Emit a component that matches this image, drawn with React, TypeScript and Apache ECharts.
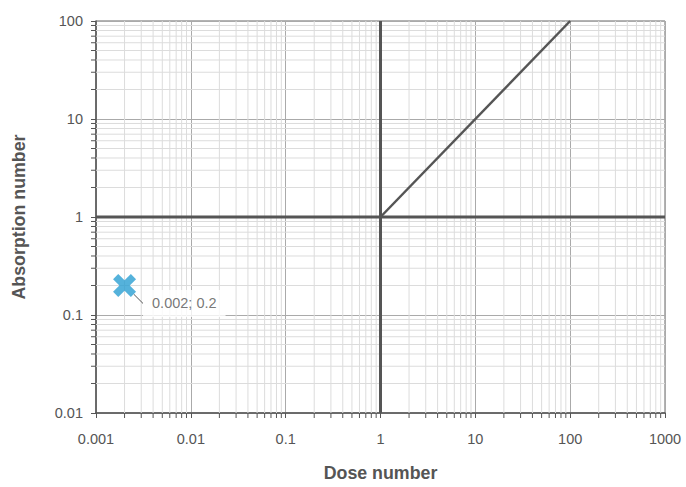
import React, { useEffect, useRef } from "react";
import * as echarts from "echarts";

const xDecades = [0.001, 0.01, 0.1, 1, 10, 100, 1000];
const yDecades = [0.01, 0.1, 1, 10, 100];
const minorSteps = [2, 3, 4, 5, 6, 7, 8, 9];

const hLine = [[0.001, 1], [1000, 1]];
const vLine = [[1, 0.01], [1, 100]];
const diagLine = [[1, 1], [100, 100]];
const point = [[0.002, 0.2]];
const pointLabel = "0.002; 0.2";

const xMinor: number[] = [];
xDecades.slice(0, -1).forEach((d) => minorSteps.forEach((m) => xMinor.push(+(d * m).toPrecision(6))));
const yMinor: number[] = [];
yDecades.slice(0, -1).forEach((d) => minorSteps.forEach((m) => yMinor.push(+(d * m).toPrecision(6))));

const FONT = 'Helvetica, Arial, "Liberation Sans", sans-serif';
const TXT = "#555";

export default function App() {
  const ref = useRef<HTMLDivElement>(null);
  useEffect(() => {
    const chart = echarts.init(ref.current!, undefined, { renderer: "svg" });
    const xMin = xDecades[0], xMax = xDecades[xDecades.length - 1];
    const yMin = yDecades[0], yMax = yDecades[yDecades.length - 1];
    chart.setOption({
      animation: false,
      textStyle: { fontFamily: FONT },
      grid: { left: 96, right: 21, top: 21, bottom: 68, show: true, borderColor: "#666", borderWidth: 1 },
      xAxis: {
        type: "log",
        logBase: 10,
        min: xMin,
        max: xMax,
        name: "Dose number",
        nameLocation: "middle",
        nameGap: 51,
        nameTextStyle: { color: TXT, fontSize: 17.8, fontWeight: 600, fontFamily: FONT },
        axisLine: { lineStyle: { color: "#555", width: 1.5 } },
        axisTick: { show: true, length: 5, lineStyle: { color: "#555" } },
        axisLabel: { color: TXT, fontSize: 14.5, margin: 18, fontFamily: FONT, formatter: (v: number) => String(+v.toPrecision(6)) },
        splitLine: { show: true, lineStyle: { color: "#aaa", width: 1 } },
        minorTick: { show: false },
      },
      yAxis: {
        type: "log",
        logBase: 10,
        min: yMin,
        max: yMax,
        name: "Absorption number",
        nameLocation: "middle",
        nameGap: 68,
        nameTextStyle: { color: TXT, fontSize: 17.8, fontWeight: 600, fontFamily: FONT },
        axisLine: { lineStyle: { color: "#555", width: 1.5 } },
        axisTick: { show: true, length: 5, lineStyle: { color: "#555" } },
        axisLabel: { color: TXT, fontSize: 14.5, margin: 13, fontFamily: FONT, formatter: (v: number) => String(+v.toPrecision(6)) },
        splitLine: { show: true, lineStyle: { color: "#aaa", width: 1 } },
        minorTick: { show: false },
      },
      series: [
        {
          type: "custom",
          silent: true,
          z: 1,
          clip: false,
          data: xMinor.map((v) => [v, yMin]),
          renderItem: (params: any, api: any) => {
            const v = api.value(0);
            const p0 = api.coord([v, yMin]);
            const p1 = api.coord([v, yMax]);
            return {
              type: "group",
              children: [
                { type: "line", shape: { x1: p0[0], y1: p0[1], x2: p1[0], y2: p1[1] }, style: { stroke: "#dcdcdc", lineWidth: 1 } },
                { type: "line", shape: { x1: p0[0], y1: p0[1], x2: p0[0], y2: p0[1] + 5 }, style: { stroke: "#555", lineWidth: 1 } },
              ],
            };
          },
        },
        {
          type: "custom",
          silent: true,
          z: 1,
          clip: false,
          data: yMinor.map((v) => [xMin, v]),
          renderItem: (params: any, api: any) => {
            const v = api.value(1);
            const p0 = api.coord([xMin, v]);
            const p1 = api.coord([xMax, v]);
            return {
              type: "group",
              children: [
                { type: "line", shape: { x1: p0[0], y1: p0[1], x2: p1[0], y2: p1[1] }, style: { stroke: "#dcdcdc", lineWidth: 1 } },
                { type: "line", shape: { x1: p0[0], y1: p0[1], x2: p0[0] - 5, y2: p0[1] }, style: { stroke: "#555", lineWidth: 1 } },
              ],
            };
          },
        },
        { type: "line", data: hLine, symbol: "none", z: 3, lineStyle: { color: "#555", width: 3 } },
        { type: "line", data: vLine, symbol: "none", z: 3, lineStyle: { color: "#555", width: 3 } },
        { type: "line", data: diagLine, symbol: "none", z: 3, lineStyle: { color: "#555", width: 2.5 } },
        {
          type: "scatter",
          data: point,
          z: 5,
          symbol: "path://M4.5,0 L10,5.5 L15.5,0 L20,4.5 L14.5,10 L20,15.5 L15.5,20 L10,14.5 L4.5,20 L0,15.5 L5.5,10 L0,4.5 Z",
          symbolSize: 23,
          itemStyle: { color: "#2b9fd2" },
          label: {
            show: true,
            formatter: pointLabel,
            position: "right",
            distance: 7,
            color: TXT,
            fontSize: 14.5,
            fontFamily: FONT,
            backgroundColor: "#fff",
            padding: [6, 9],
          },
          labelLayout: { dy: 18 },
          labelLine: { show: true, lineStyle: { color: "#555", width: 1 } },
        },
      ],
    });
    return () => chart.dispose();
  }, []);
  return <div ref={ref} style={{ width: 686, height: 487, position: "absolute", left: 0, top: 0 }} />;
}
